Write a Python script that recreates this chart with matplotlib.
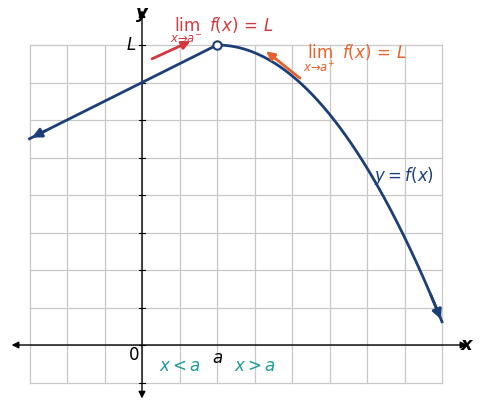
import matplotlib.pyplot as plt
import numpy as np

plt.rcParams['mathtext.fontset'] = 'dejavusans'
plt.rcParams['font.family'] = ['DejaVu Sans']

# data
a_val = 2.0
L_val = 8.0
left_x = [-3.0, 2.0]
left_slope = 0.5
curve_k = 0.205
curve_end = 8.0

navy = "#1c3f78"
red = "#d5373f"
orange = "#e8612a"
teal = "#1c9b9b"

fig = plt.figure(figsize=(4.87, 4.08), dpi=100)
ax = fig.add_axes([0, 0, 1, 1])
ax.set_xlim(-142 / 37.5, (487 - 142) / 37.5)
ax.set_ylim(-(408 - 345) / 37.5, 345 / 37.5)
ax.axis('off')

# grid
for gx in range(-3, 9):
    ax.plot([gx, gx], [-1, 8], color="#c8c8c8", lw=0.9, zorder=1)
for gy in range(-1, 9):
    ax.plot([-3, 8], [gy, gy], color="#c8c8c8", lw=0.9, zorder=1)

# axes
ax.annotate("", xy=(-3.55, 0), xytext=(8.75, 0),
            arrowprops=dict(arrowstyle="<|-|>", color="black", lw=1, mutation_scale=10))
ax.annotate("", xy=(0, -1.5), xytext=(0, 9.0),
            arrowprops=dict(arrowstyle="<|-|>", color="black", lw=1, mutation_scale=10))
for gy in range(-1, 9):
    ax.plot([-0.07, 0.07], [gy, gy], color="black", lw=0.8)

# left piece
xl = np.array(left_x)
yl = L_val + left_slope * (xl - a_val)
ax.plot(xl, yl, color=navy, lw=2, zorder=3)
ax.annotate("", xy=(xl[0], yl[0]), xytext=(xl[0] + 0.5, yl[0] + 0.25),
            arrowprops=dict(arrowstyle="-|>", color=navy, lw=2, mutation_scale=14))

# right piece
xr = np.linspace(a_val, curve_end, 200)
yr = L_val - curve_k * (xr - a_val) ** 2
ax.plot(xr, yr, color=navy, lw=2, zorder=3)
ax.annotate("", xy=(xr[-1], yr[-1]), xytext=(xr[-12], yr[-12]),
            arrowprops=dict(arrowstyle="-|>", color=navy, lw=2, mutation_scale=14))
ax.plot([a_val], [L_val], 'o', ms=6, mfc="white", mec=navy, mew=1.5, zorder=4)

# limit arrows
ax.annotate("", xy=(1.36, 8.13), xytext=(0.2, 7.6),
            arrowprops=dict(arrowstyle="-|>", color=red, lw=2, mutation_scale=12))
ax.annotate("", xy=(3.25, 7.88), xytext=(4.27, 7.07),
            arrowprops=dict(arrowstyle="-|>", color=orange, lw=2, mutation_scale=12))
ax.text(0.75, 8.4, r"$\lim_{x\to a^-}\ f(x)\,=\,L$", color=red, fontsize=12, va="center")
ax.text(4.3, 7.65, r"$\lim_{x\to a^+}\ f(x)\,=\,L$", color=orange, fontsize=12, va="center")

# labels
ax.text(0, 8.85, "y", fontsize=13, fontweight="bold", style="italic", ha="center", va="center")
ax.text(8.65, 0, "x", fontsize=13, fontweight="bold", style="italic", ha="center", va="center")
ax.text(-0.3, 8.0, "L", fontsize=12, style="italic", ha="center", va="center")
ax.text(2.0, -0.35, "a", fontsize=12, style="italic", ha="center", va="center")
ax.text(-0.22, -0.28, "0", fontsize=12, ha="center", va="center")
ax.text(1.0, -0.55, r"$x < a$", color=teal, fontsize=12, ha="center", va="center")
ax.text(3.0, -0.55, r"$x > a$", color=teal, fontsize=12, ha="center", va="center")
ax.text(6.2, 4.5, r"$y = f(x)$", color=navy, fontsize=12, ha="left", va="center")

fig.savefig("out.png", dpi=100)
